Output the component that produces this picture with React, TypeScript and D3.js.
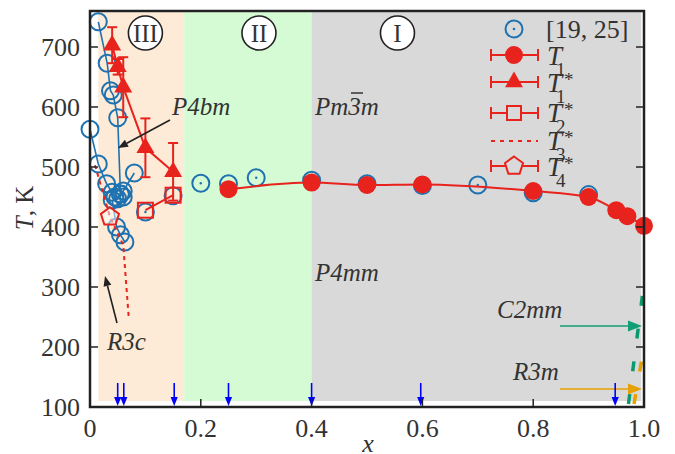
import * as d3 from 'd3';

// literature points [19, 25], three connected branches near x = 0 plus loose points
const litAX = [0.015, 0.031, 0.037, 0.042, 0.05, 0.055, 0.06];
const litAT = [742, 673, 627, 620, 582, 455, 450];
const litBX = [0, 0.015, 0.03, 0.04, 0.045, 0.05, 0.055, 0.06, 0.08];
const litBT = [563, 505, 472, 458, 450, 447, 455, 460, 490];
const litCX = [0.04, 0.048, 0.055, 0.063];
const litCT = [445, 400, 387, 375];
const litDX = [0.1, 0.15, 0.2, 0.25, 0.3, 0.4, 0.5, 0.6, 0.7, 0.8, 0.9];
const litDT = [425, 452, 473, 472, 482, 478, 472, 469, 470, 457, 454];

// T1 (filled circles)
const t1X = [0.25, 0.4, 0.5, 0.6, 0.8, 0.9, 0.95, 0.97, 1.0];
const t1T = [463, 474, 470, 471, 460, 450, 428, 418, 402];
// T1* (triangles with error bars)
const t1sX = [0.04, 0.05, 0.06, 0.1, 0.15];
const t1sT = [703, 667, 633, 532, 492];
const t1sErr = [30, 13, 50, 49, 48];
// T2* (squares)
const t2sX = [0.1, 0.15];
const t2sT = [428, 453];
// T3* (dotted)
const t3sX = [0.009, 0.036, 0.06, 0.07];
const t3sT = [503, 417, 370, 248];
// T4* (pentagon)
const t4sX = [0.036];
const t4sT = [417];

// phase regions
const regionNames = ['III', 'II', 'I'];
const regionX0 = [0.015, 0.17, 0.4];
const regionX1 = [0.17, 0.4, 0.995];
const regionLabelX = [0.1, 0.305, 0.555];
const regionTop = 758;
const regionBottom = 110;

// C2mm and R3m boundaries near x = 1
const c2mmX = [0.972, 0.998];
const c2mmT = [105, 292];
const r3mX = [0.982, 0.998];
const r3mT = [105, 190];

// blue arrows on the x axis
const arrowX = [0.05, 0.061, 0.152, 0.25, 0.4, 0.597, 0.948];

const xTicks = [0, 0.2, 0.4, 0.6, 0.8, 1.0];
const xTickLabels = ['0', '0.2', '0.4', '0.6', '0.8', '1.0'];
const yTicks = [100, 200, 300, 400, 500, 600, 700];

const RED = '#e8221c';
const BLUE = '#1f72b0';
const FONT = '"Liberation Serif", "Times New Roman", serif';

const W = 675;
const H = 454;

const x = d3.scaleLinear().domain([0, 1]).range([90, 644]);
const y = d3.scaleLinear().domain([100, 760]).range([407, 11]);

const pts = (xs: number[], ts: number[]) => xs.map((v, i) => [v, ts[i]] as [number, number]);
const line = d3.line<[number, number]>().x(d => x(d[0])).y(d => y(d[1]));
const smooth = d3.line<[number, number]>().x(d => x(d[0])).y(d => y(d[1])).curve(d3.curveMonotoneX);
const tri = d3.symbol(d3.symbolTriangle, 140)() as string;

const pentagon = (r: number) =>
  d3.range(5).map(k => {
    const a = -Math.PI / 2 + (k * 2 * Math.PI) / 5;
    return `${r * Math.cos(a)},${r * Math.sin(a)}`;
  }).join(' ');

const Arrow = ({ x1, y1, x2, y2, color, head = 10 }: any) => {
  const a = Math.atan2(y2 - y1, x2 - x1);
  const hx = x2 - head * Math.cos(a);
  const hy = y2 - head * Math.sin(a);
  const w = head * 0.4;
  const p = `${x2},${y2} ${hx - w * Math.sin(a)},${hy + w * Math.cos(a)} ${hx + w * Math.sin(a)},${hy - w * Math.cos(a)}`;
  return (
    <g>
      <line x1={x1} y1={y1} x2={hx} y2={hy} stroke={color} strokeWidth={1.6} />
      <polygon points={p} fill={color} />
    </g>
  );
};

const TLabel = ({ lx, my, sub, star }: any) => (
  <g fontFamily={FONT} fill="#333">
    <text x={lx} y={my + 10} fontSize={27} fontStyle="italic">T</text>
    <text x={lx + 9} y={my + 21} fontSize={19}>{sub}</text>
    {star && <text x={lx + 17} y={my + 4} fontSize={19}>*</text>}
  </g>
);

const ErrH = ({ cy }: { cy: number }) => (
  <g stroke={RED} strokeWidth={2}>
    <line x1={491} x2={538} y1={cy} y2={cy} />
    <line x1={491} x2={491} y1={cy - 6} y2={cy + 6} />
    <line x1={538} x2={538} y1={cy - 6} y2={cy + 6} />
  </g>
);

export default function App() {
  const lit = [...pts(litAX, litAT), ...pts(litBX, litBT), ...pts(litCX, litCT)];
  const litD = pts(litDX, litDT);
  return (
    <svg width={W} height={H} style={{ position: 'absolute', left: 0, top: 0 }} fontFamily={FONT}>
      <rect width={W} height={H} fill="white" />
      {/* phase regions */}
      {regionNames.map((n, i) => (
        <rect key={n} x={x(regionX0[i])} width={x(regionX1[i]) - x(regionX0[i])}
          y={y(regionTop)} height={y(regionBottom) - y(regionTop)}
          fill={['#fdebd7', '#d5fbd5', '#d9d9d9'][i]} />
      ))}
      {regionNames.map((n, i) => (
        <g key={n}>
          <circle cx={x(regionLabelX[i])} cy={33} r={17} fill="white" stroke="#222" strokeWidth={1.6} />
          <text x={x(regionLabelX[i])} y={42} fontSize={25} textAnchor="middle" fill="#333">{n}</text>
        </g>
      ))}

      {/* literature */}
      {[pts(litAX, litAT), pts(litBX, litBT), pts(litCX, litCT)].map((d, i) => (
        <path key={i} d={line(d) as string} fill="none" stroke={BLUE} strokeWidth={1.6} />
      ))}
      {lit.map((d, i) => (
        <circle key={i} cx={x(d[0])} cy={y(d[1])} r={8.5} fill="none" stroke={BLUE} strokeWidth={2} />
      ))}
      {litD.map((d, i) => (
        <g key={i}>
          <circle cx={x(d[0])} cy={y(d[1])} r={8.5} fill="none" stroke={BLUE} strokeWidth={2} />
          <circle cx={x(d[0])} cy={y(d[1])} r={1.2} fill={BLUE} />
        </g>
      ))}

      {/* T3* */}
      <path d={line(pts(t3sX, t3sT)) as string} fill="none" stroke={RED} strokeWidth={2} strokeDasharray="4 4" />
      {/* T2* */}
      <path d={line(pts(t2sX, t2sT)) as string} fill="none" stroke={RED} strokeWidth={2} />
      {pts(t2sX, t2sT).map((d, i) => (
        <rect key={i} x={x(d[0]) - 7.5} y={y(d[1]) - 7.5} width={15} height={15} fill="none" stroke={RED} strokeWidth={2} />
      ))}
      {/* T4* */}
      {pts(t4sX, t4sT).map((d, i) => (
        <polygon key={i} transform={`translate(${x(d[0])},${y(d[1])})`} points={pentagon(9.5)}
          fill="white" fillOpacity={0.5} stroke={RED} strokeWidth={2} />
      ))}
      {/* T1* */}
      <path d={line(pts(t1sX, t1sT)) as string} fill="none" stroke={RED} strokeWidth={2} />
      {t1sX.map((v, i) => (
        <g key={i} stroke={RED} strokeWidth={2}>
          <line x1={x(v)} x2={x(v)} y1={y(t1sT[i] + t1sErr[i])} y2={y(t1sT[i] - t1sErr[i])} />
          <line x1={x(v) - 5} x2={x(v) + 5} y1={y(t1sT[i] + t1sErr[i])} y2={y(t1sT[i] + t1sErr[i])} />
          <line x1={x(v) - 5} x2={x(v) + 5} y1={y(t1sT[i] - t1sErr[i])} y2={y(t1sT[i] - t1sErr[i])} />
        </g>
      ))}
      {t1sX.map((v, i) => (
        <path key={i} d={tri} transform={`translate(${x(v)},${y(t1sT[i])})`} fill={RED} />
      ))}
      {/* T1 */}
      <path d={smooth(pts(t1X, t1T)) as string} fill="none" stroke={RED} strokeWidth={2} />
      {t1X.map((v, i) => (
        <circle key={i} cx={x(v)} cy={y(t1T[i])} r={9} fill={RED} />
      ))}

      {/* C2mm / R3m boundaries */}
      <path d={line(pts(c2mmX, c2mmT)) as string} stroke="#0a9a6e" strokeWidth={3.5} strokeDasharray="10 23" fill="none" />
      <path d={line(pts(r3mX, r3mT)) as string} stroke="#e6a100" strokeWidth={3.5} strokeDasharray="10 23" fill="none" />

      {/* phase labels */}
      <g fontSize={25} fontStyle="italic" fill="#333">
        <text x={172} y={115}>P4bm</text>
        <text x={315} y={115}>Pm3m</text>
        <text x={315} y={281}>P4mm</text>
        <text x={107} y={350}>R3c</text>
        <text x={497} y={318}>C2mm</text>
        <text x={513} y={380}>R3m</text>
      </g>
      <line x1={351} x2={363} y1={93} y2={93} stroke="#333" strokeWidth={1.5} />
      <Arrow x1={170} y1={120} x2={118} y2={148} color="#222" />
      <Arrow x1={117} y1={323} x2={105} y2={276} color="#222" />
      <Arrow x1={560} y1={326} x2={642} y2={326} color="#119e74" head={14} />
      <Arrow x1={560} y1={389} x2={642} y2={389} color="#e6a100" head={14} />

      {/* x-axis markers */}
      {arrowX.map((v, i) => (
        <Arrow key={i} x1={x(v)} y1={383} x2={x(v)} y2={406} color="#0000ff" head={9} />
      ))}

      {/* frame and ticks */}
      <rect x={90} y={11} width={554} height={396} fill="none" stroke="#222" strokeWidth={2.5} />
      {yTicks.map(t => (
        <g key={t}>
          <line x1={90} x2={98} y1={y(t)} y2={y(t)} stroke="#222" strokeWidth={1.5} />
          <line x1={636} x2={644} y1={y(t)} y2={y(t)} stroke="#222" strokeWidth={1.5} />
          <text x={80} y={y(t)} dy="0.35em" fontSize={26} textAnchor="end" fill="#333">{t}</text>
        </g>
      ))}
      {xTicks.map((t, i) => (
        <g key={t}>
          <line x1={x(t)} x2={x(t)} y1={407} y2={399} stroke="#222" strokeWidth={1.5} />
          <text x={x(t)} y={437} fontSize={26} textAnchor="middle" fill="#333">{xTickLabels[i]}</text>
        </g>
      ))}
      <text x={368} y={452} fontSize={26} fontStyle="italic" textAnchor="middle" fill="#333">x</text>
      <text transform="translate(33,208) rotate(-90)" fontSize={25} textAnchor="middle" fill="#333">
        <tspan fontStyle="italic">T</tspan>, K
      </text>

      {/* legend */}
      <circle cx={514} cy={29} r={8.5} fill="none" stroke={BLUE} strokeWidth={2} />
      <circle cx={514} cy={29} r={1.3} fill={BLUE} />
      <text x={546} y={38} fontSize={26} fill="#333">[19, 25]</text>

      <ErrH cy={55} />
      <circle cx={514} cy={55} r={9} fill={RED} />
      <TLabel lx={547} my={55} sub="1" />

      <ErrH cy={82} />
      <path d={tri} transform="translate(514,82)" fill={RED} />
      <TLabel lx={547} my={82} sub="1" star />

      <ErrH cy={113} />
      <rect x={507} y={106} width={14} height={14} fill="#d9d9d9" stroke={RED} strokeWidth={2} />
      <TLabel lx={547} my={112} sub="2" star />

      <line x1={491} x2={538} y1={141} y2={141} stroke={RED} strokeWidth={2} strokeDasharray="4 5" />
      <TLabel lx={547} my={140} sub="3" star />

      <ErrH cy={166} />
      <polygon transform="translate(514,166)" points={pentagon(9.5)} fill="#d9d9d9" stroke={RED} strokeWidth={2} />
      <TLabel lx={547} my={166} sub="4" star />
    </svg>
  );
}
